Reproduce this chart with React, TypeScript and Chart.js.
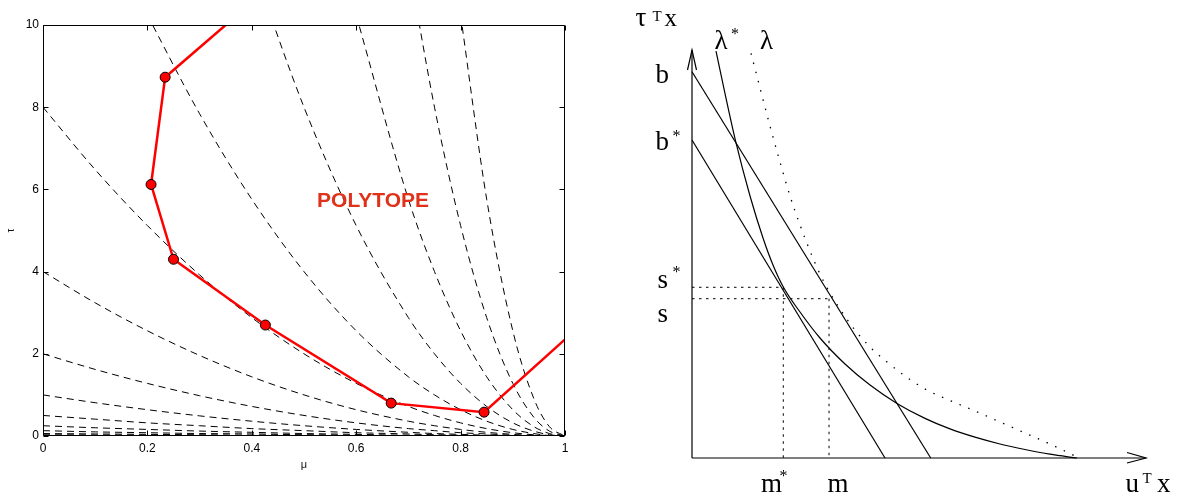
import React, { useEffect, useRef } from "react";
import { Chart, registerables } from "chart.js";
Chart.register(...registerables);

// ---------------- Left panel data (mu, tau) ----------------
const muGrid = [0, 0.1, 0.2, 0.3, 0.4, 0.5, 0.6, 0.7, 0.75, 0.8, 0.85, 0.9, 0.94, 0.97, 1];
const n = null;
const tauC256 = [n, n, n, n, n, n, n, n, n, 10.24, 5.76, 2.56, 0.92, 0.23, 0];
const tauC128 = [n, n, n, n, n, n, n, 11.52, 8, 5.12, 2.88, 1.28, 0.46, 0.12, 0];
const tauC64 = [n, n, n, n, n, n, 10.24, 5.76, 4, 2.56, 1.44, 0.64, 0.23, 0.06, 0];
const tauC32 = [n, n, n, n, 11.52, 8, 5.12, 2.88, 2, 1.28, 0.72, 0.32, 0.12, 0.03, 0];
const tauC16 = [n, n, 10.24, 7.84, 5.76, 4, 2.56, 1.44, 1, 0.64, 0.36, 0.16, 0.06, 0.01, 0];
const tauC8 = [8, 6.48, 5.12, 3.92, 2.88, 2, 1.28, 0.72, 0.5, 0.32, 0.18, 0.08, 0.03, 0.01, 0];
const tauC4 = [4, 3.24, 2.56, 1.96, 1.44, 1, 0.64, 0.36, 0.25, 0.16, 0.09, 0.04, 0.01, 0, 0];
const tauC2 = [2, 1.62, 1.28, 0.98, 0.72, 0.5, 0.32, 0.18, 0.13, 0.08, 0.05, 0.02, 0.01, 0, 0];
const tauC1 = [1, 0.81, 0.64, 0.49, 0.36, 0.25, 0.16, 0.09, 0.06, 0.04, 0.02, 0.01, 0, 0, 0];
const tauC05 = [0.5, 0.41, 0.32, 0.25, 0.18, 0.13, 0.08, 0.05, 0.03, 0.02, 0.01, 0.01, 0, 0, 0];
const tauC025 = [0.25, 0.2, 0.16, 0.12, 0.09, 0.06, 0.04, 0.02, 0.02, 0.01, 0.01, 0, 0, 0, 0];
const tauC0125 = [0.13, 0.1, 0.08, 0.06, 0.05, 0.03, 0.02, 0.01, 0.01, 0.01, 0, 0, 0, 0, 0];
const tauC006 = [0.06, 0.05, 0.04, 0.03, 0.02, 0.02, 0.01, 0.01, 0, 0, 0, 0, 0, 0, 0];
const tauC003 = [0.03, 0.025, 0.02, 0.015, 0.01, 0.008, 0.005, 0.003, 0.002, 0.001, 0, 0, 0, 0, 0];
const levelCurves = [tauC256, tauC128, tauC64, tauC32, tauC16, tauC8, tauC4, tauC2, tauC1, tauC05, tauC025, tauC0125, tauC006, tauC003];

const polyMu = [0.35, 0.234, 0.207, 0.25, 0.426, 0.667, 0.845, 1.0];
const polyTau = [10, 8.73, 6.12, 4.3, 2.7, 0.8, 0.58, 2.35];
const polyMarked = [false, true, true, true, true, true, true, false];
const polyLabel = "POLYTOPE";
const polyLabelAt = [0.525, 5.56];

const xTickValues = [0, 0.2, 0.4, 0.6, 0.8, 1];
const xTickLabels = ["0", "0.2", "0.4", "0.6", "0.8", "1"];
const yTickValues = [0, 2, 4, 6, 8, 10];
const yTickLabels = ["0", "2", "4", "6", "8", "10"];

// ---------------- Right panel data (u^T x, tau^T x), axes 0..100 ----------------
const lamStarX = [5.29, 7.38, 9.63, 12.78, 15.64, 17.84, 20.11, 23.79, 28.19, 33.7, 39.21, 45.15, 51.32, 56.83, 62.33, 67.84, 73.35, 78.85, 84.8];
const lamStarY = [99.75, 88.73, 77.52, 64.22, 53.92, 47.3, 41.91, 35.78, 29.41, 23.04, 17.89, 13.38, 9.71, 7.13, 5.1, 3.43, 2.08, 0.93, 0];
const lamX = [13.0, 14.98, 17.18, 19.38, 21.59, 23.79, 25.99, 28.19, 30.4, 32.6, 35.9, 39.21, 42.95, 46.92, 51.32, 56.83, 62.33, 67.84, 73.35, 78.85, 84.58];
const lamY = [99.19, 90.69, 81.37, 72.55, 64.22, 57.11, 50.74, 45.1, 40.44, 36.52, 31.37, 27.21, 23.53, 20.1, 16.91, 14.09, 11.52, 8.82, 6.13, 3.43, 0.37];
const bLineX = [0, 52.58];
const bLineY = [94.68, 0];
const bStarX = [0, 42.51];
const bStarY = [77.94, 0];
const sStarVal = 41.84;
const mStarVal = 20.11;
const sVal = 39.04;
const mVal = 30.18;

const SANS = '"Liberation Sans", Arial, Helvetica, sans-serif';
const SERIF = '"Liberation Serif", "Times New Roman", serif';

const leftDecor = {
  id: "leftDecor",
  afterDatasetsDraw(chart: any) {
    const { ctx, chartArea: a, scales } = chart;
    const x = scales.x, y = scales.y;
    ctx.save();
    ctx.strokeStyle = "#000";
    ctx.lineWidth = 1;
    const L = Math.round(a.left) + 0.5, R = Math.round(a.right) - 0.5;
    const T = Math.round(a.top) + 0.5, B = Math.round(a.bottom) - 0.5;
    ctx.beginPath();
    ctx.rect(L, T, R - L, B - T);
    const tl = 5;
    xTickValues.forEach((v) => {
      const px = Math.round(x.getPixelForValue(v)) + 0.5;
      ctx.moveTo(px, B); ctx.lineTo(px, B - tl);
      ctx.moveTo(px, T); ctx.lineTo(px, T + tl);
    });
    yTickValues.forEach((v) => {
      const py = Math.round(y.getPixelForValue(v)) + 0.5;
      ctx.moveTo(L, py); ctx.lineTo(L + tl, py);
      ctx.moveTo(R, py); ctx.lineTo(R - tl, py);
    });
    ctx.stroke();
    ctx.font = `bold 21px ${SANS}`;
    ctx.fillStyle = "#e0321a";
    ctx.textAlign = "left";
    ctx.textBaseline = "alphabetic";
    ctx.fillText(polyLabel, x.getPixelForValue(polyLabelAt[0]), y.getPixelForValue(polyLabelAt[1]));
    ctx.restore();
  },
};

const rightDecor = {
  id: "rightDecor",
  afterDatasetsDraw(chart: any) {
    const { ctx, scales } = chart;
    const x = scales.x, y = scales.y;
    const ox = x.getPixelForValue(0), oy = y.getPixelForValue(0);
    const tx = x.getPixelForValue(100), ty = y.getPixelForValue(100);
    ctx.save();
    ctx.strokeStyle = "#000";
    ctx.lineWidth = 1.2;
    ctx.beginPath();
    ctx.moveTo(ox - 4.5, ty + 20); ctx.lineTo(ox, ty); ctx.lineTo(ox + 4.5, ty + 20);
    ctx.moveTo(tx - 19, oy - 5.5); ctx.lineTo(tx, oy); ctx.lineTo(tx - 19, oy + 5);
    ctx.stroke();
    ctx.fillStyle = "#000";
    ctx.textAlign = "left";
    ctx.textBaseline = "alphabetic";
    const labels: [string, number, number, number][] = [
      ["τ", 35.5, 26, 27], ["T", 52.5, 21, 15], ["x", 64.5, 26, 25],
      ["λ", 114.5, 49.3, 27], ["*", 131, 39, 16],
      ["λ", 160, 49.3, 27],
      ["b", 55.5, 82.7, 27],
      ["b", 55.5, 150, 27], ["*", 72.5, 141, 16],
      ["s", 57.5, 288.3, 27], ["*", 72.5, 277, 16],
      ["s", 57.5, 321.7, 27],
      ["m", 161, 491.7, 27], ["*", 179.5, 481, 16],
      ["m", 227.5, 491.7, 27],
      ["u", 525.5, 491.7, 27], ["T", 542.5, 483, 15], ["x", 557, 491.7, 27],
    ];
    labels.forEach(([t, px, py, fs]) => {
      ctx.font = `${fs}px ${SERIF}`;
      ctx.fillText(t, px, py);
    });
    ctx.restore();
  },
};

function pts(xs: number[], ys: (number | null)[]) {
  const out: { x: number; y: number }[] = [];
  xs.forEach((v, i) => {
    const w = ys[i];
    if (w !== null && w !== undefined) out.push({ x: v, y: w });
  });
  return out;
}

export default function App() {
  const leftRef = useRef<HTMLCanvasElement>(null);
  const rightRef = useRef<HTMLCanvasElement>(null);

  useEffect(() => {
    const dashed = levelCurves.map((c) => ({
      data: pts(muGrid, c),
      showLine: true,
      borderColor: "#000",
      borderWidth: 1,
      borderDash: [7, 5],
      pointRadius: 0,
      cubicInterpolationMode: "monotone" as const,
      order: 2,
    }));
    const left = new Chart(leftRef.current!, {
      type: "scatter",
      data: {
        datasets: [
          {
            data: pts(polyMu, polyTau),
            showLine: true,
            borderColor: "#ff0000",
            borderWidth: 2.5,
            pointRadius: polyMarked.map((m) => (m ? 5 : 0)),
            pointBackgroundColor: "#ff0000",
            pointBorderColor: "#000",
            pointBorderWidth: 1,
            order: 0,
          } as any,
          ...dashed,
        ],
      },
      options: {
        responsive: false,
        animation: false,
        events: [],
        layout: { padding: { top: 25, right: 35, left: 0, bottom: 0 } },
        plugins: { legend: { display: false }, tooltip: { enabled: false } },
        scales: {
          x: {
            type: "linear",
            min: 0,
            max: 1,
            grid: { display: false, drawTicks: false },
            border: { display: false },
            afterBuildTicks: (s: any) => { s.ticks = xTickValues.map((v) => ({ value: v })); },
            afterFit: (s: any) => { s.height = 61; },
            ticks: {
              padding: 5,
              color: "#000",
              font: { family: SANS, size: 12 },
              callback: (_v: any, i: number) => xTickLabels[i],
            },
            title: { display: true, text: "μ", color: "#111", font: { family: SANS, size: 11 }, padding: { top: 0, bottom: 25 } },
          },
          y: {
            type: "linear",
            min: 0,
            max: 10,
            grid: { display: false, drawTicks: false },
            border: { display: false },
            afterBuildTicks: (s: any) => { s.ticks = yTickValues.map((v) => ({ value: v })); },
            afterFit: (s: any) => { s.width = 43; },
            ticks: {
              padding: 4,
              color: "#000",
              font: { family: SANS, size: 12 },
              callback: (_v: any, i: number) => yTickLabels[i],
            },
            title: { display: true, text: "τ", color: "#111", font: { family: SANS, size: 10 }, padding: { top: 5, bottom: 0 } },
          },
        },
      },
      plugins: [leftDecor],
    } as any);

    const solid = (xs: number[], ys: number[], extra: any = {}) => ({
      data: pts(xs, ys),
      showLine: true,
      borderColor: "#000",
      borderWidth: 1.2,
      pointRadius: 0,
      clip: false,
      ...extra,
    });
    const right = new Chart(rightRef.current!, {
      type: "scatter",
      data: {
        datasets: [
          solid([0, 0], [0, 100]),
          solid([0, 100], [0, 0]),
          solid(bLineX, bLineY),
          solid(bStarX, bStarY),
          solid(lamStarX, lamStarY, { cubicInterpolationMode: "monotone" }),
          solid(lamX, lamY, { cubicInterpolationMode: "monotone", borderDash: [1.5, 8], borderWidth: 1.3 }),
          solid([0, mStarVal], [sStarVal, sStarVal], { borderDash: [2.5, 4.5], borderWidth: 1 }),
          solid([mStarVal, mStarVal], [sStarVal, 0], { borderDash: [2.5, 4.5], borderWidth: 1 }),
          solid([0, mVal], [sVal, sVal], { borderDash: [2.5, 4.5], borderWidth: 1 }),
          solid([mVal, mVal], [sVal, 0], { borderDash: [2.5, 4.5], borderWidth: 1 }),
        ],
      },
      options: {
        responsive: false,
        animation: false,
        events: [],
        layout: { padding: { top: 50, right: 36, left: 92, bottom: 39 } },
        plugins: { legend: { display: false }, tooltip: { enabled: false } },
        scales: {
          x: { type: "linear", min: 0, max: 100, display: false },
          y: { type: "linear", min: 0, max: 100, display: false },
        },
      },
      plugins: [rightDecor],
    } as any);

    return () => {
      left.destroy();
      right.destroy();
    };
  }, []);

  return (
    <div style={{ position: "absolute", left: 0, top: 0, width: 1182, height: 497, background: "#fff" }}>
      <canvas ref={leftRef} width={600} height={497} style={{ position: "absolute", left: 0, top: 0 }} />
      <canvas ref={rightRef} width={582} height={497} style={{ position: "absolute", left: 600, top: 0 }} />
    </div>
  );
}
